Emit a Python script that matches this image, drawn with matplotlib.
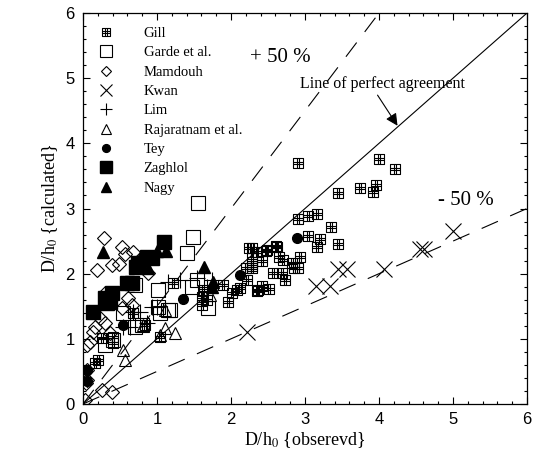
## scatter of calculated vs observed scour depth
import numpy as np
import matplotlib
matplotlib.use("Agg")
from matplotlib import pyplot as plt
from matplotlib.path import Path
from matplotlib.ticker import MultipleLocator

plt.rcParams["mathtext.fontset"] = "stix"

## data
gill_x = [2.91, 4.00, 4.22, 3.45, 3.74, 3.96, 3.92, 2.91, 3.04, 3.16, 3.35, 3.04, 3.20,
          3.16, 3.45, 2.93, 2.85, 2.73, 2.62, 2.47, 2.42, 2.28, 2.28, 2.65, 2.70, 2.82,
          2.91, 2.57, 2.69, 2.42, 2.35, 2.51, 2.24, 2.35, 2.49, 2.61, 2.20, 2.28, 2.22,
          2.36, 2.12, 2.08, 2.01, 1.89, 1.96, 1.62, 1.61, 1.61, 1.68, 1.22, 0.26, 0.41,
          0.41, 0.20, 0.16, 0.68, 1.04, 0.84, 2.28]
gill_y = [3.70, 3.76, 3.60, 3.24, 3.31, 3.36, 3.25, 2.84, 2.88, 2.91, 2.71, 2.58, 2.53,
          2.41, 2.45, 2.25, 2.09, 1.90, 2.41, 2.35, 2.19, 2.39, 2.24, 2.25, 2.21, 2.16,
          2.09, 2.01, 2.01, 1.81, 1.73, 1.76, 2.39, 2.33, 2.36, 2.42, 2.09, 2.12, 1.90,
          1.75, 1.78, 1.75, 1.70, 1.83, 1.56, 1.75, 1.64, 1.52, 1.60, 1.86, 1.01, 1.03,
          0.94, 0.67, 0.63, 1.40, 1.03, 1.21, 2.09]

garde_x = [1.55, 1.49, 1.41, 1.01, 1.15, 1.04, 1.54, 1.47, 1.69, 0.54, 0.70, 0.30, 0.41,
           0.80, 1.18, 1.01, 0.70]
garde_y = [3.08, 2.56, 2.32, 1.75, 1.44, 1.40, 1.90, 1.79, 1.47, 1.40, 1.83, 0.90, 0.98,
           1.21, 1.44, 1.49, 1.18]

mamdouh_x = [0.28, 0.53, 0.68, 0.57, 0.39, 0.49, 0.19, 0.88, 0.61, 0.30, 0.66, 0.53, 0.16,
             0.30, 0.14, 0.36, 0.05, 0.09, 0.05, 0.05, 0.04, 0.26, 0.39, 0.03, 0.23]
mamdouh_y = [2.55, 2.41, 2.33, 2.30, 2.13, 2.15, 2.06, 2.01, 1.63, 1.70, 1.52, 1.47, 1.18,
             1.24, 1.10, 1.09, 0.90, 0.95, 0.52, 0.37, 0.32, 0.21, 0.18, 0.06, 1.32]

kwan_x = [5.00, 4.61, 4.55, 4.07, 3.45, 3.57, 3.15, 3.34, 2.22]
kwan_y = [2.65, 2.38, 2.38, 2.07, 2.07, 2.07, 1.81, 1.81, 1.10]

lim_x = [0.77, 0.68, 0.93, 0.54, 0.64, 1.15, 1.54, 1.74, 1.68, 0.86, 1.00, 1.31]
lim_y = [1.41, 1.41, 1.49, 1.18, 1.18, 1.87, 1.93, 1.90, 1.80, 1.24, 1.49, 1.90]

raja_x = [1.24, 1.11, 1.04, 0.54, 0.57, 0.81, 1.11, 1.72]
raja_y = [1.09, 1.17, 1.06, 0.83, 0.67, 1.21, 1.44, 1.67]

tey_x = [1.35, 2.12, 2.89, 0.54, 0.05, 0.05]
tey_y = [1.61, 1.98, 2.55, 1.21, 0.52, 0.35]

zaghlol_x = [1.09, 0.93, 0.74, 0.72, 0.59, 0.66, 0.39, 0.30, 0.36, 0.14, 0.32, 0.86]
zaghlol_y = [2.48, 2.24, 2.16, 2.10, 1.86, 1.86, 1.70, 1.63, 1.56, 1.41, 1.55, 2.26]

nagy_x = [0.27, 1.00, 1.12, 0.77, 0.88, 1.64, 1.76, 1.74]
nagy_y = [2.33, 2.35, 2.35, 2.24, 2.09, 2.10, 1.87, 1.79]

## square with a double cross inside, used for Gill
a = 0.15
verts = [(-1, -1), (1, -1), (1, 1), (-1, 1), (-1, -1),
         (-a, -1), (-a, 1), (a, -1), (a, 1),
         (-1, -a), (1, -a), (-1, a), (1, a)]
codes = [Path.MOVETO, Path.LINETO, Path.LINETO, Path.LINETO, Path.CLOSEPOLY,
         Path.MOVETO, Path.LINETO, Path.MOVETO, Path.LINETO,
         Path.MOVETO, Path.LINETO, Path.MOVETO, Path.LINETO]
gill_marker = Path(verts, codes)

serif = "Liberation Serif"
fig = plt.figure(figsize=(5.37, 4.75), dpi=100)
ax = fig.add_axes([0.1546, 0.1495, 0.8268, 0.8231])

open_style = dict(linestyle="none", markerfacecolor="none", markeredgecolor="black",
                  markeredgewidth=0.8)
ax.plot(gill_x, gill_y, marker=gill_marker, markersize=6.5, label="Gill", **open_style)
ax.plot(garde_x, garde_y, marker="s", markersize=10, label="Garde et al.", **open_style)
ax.plot(mamdouh_x, mamdouh_y, marker="D", markersize=7, label="Mamdouh", **open_style)
ax.plot(kwan_x, kwan_y, marker="x", markersize=11, label="Kwan", **open_style)
ax.plot(lim_x, lim_y, marker="+", markersize=11, label="Lim", **open_style)
ax.plot(raja_x, raja_y, marker="^", markersize=9, label="Rajaratnam et al.", **open_style)
ax.plot(tey_x, tey_y, marker="o", markersize=7, color="black", linestyle="none", label="Tey")
ax.plot(zaghlol_x, zaghlol_y, marker="s", markersize=10, color="black", linestyle="none",
        label="Zaghlol")
ax.plot(nagy_x, nagy_y, marker="^", markersize=9, color="black", linestyle="none",
        label="Nagy")

## reference lines
ax.plot([0, 6], [0, 6], color="black", lw=0.8)
ax.plot([0, 4], [0, 6], color="black", lw=0.8, dashes=[16, 12])
ax.plot([0, 6], [0, 3], color="black", lw=0.8, dashes=[16, 12])

ax.text(2.66, 5.31, "+ 50 %", family=serif, fontsize=15, ha="center", va="center")
ax.text(5.18, 3.13, "- 50 %", family=serif, fontsize=15, ha="center", va="center")
ax.text(4.05, 4.91, "Line of perfect agreement", family=serif, fontsize=11.5,
        ha="center", va="center")
ax.annotate("", xy=(4.25, 4.27), xytext=(3.98, 4.74),
            arrowprops=dict(arrowstyle="-|>", color="black", lw=0.8, mutation_scale=18,
                            shrinkA=0, shrinkB=0))

ax.set_xlim(0, 6)
ax.set_ylim(0, 6)
ax.xaxis.set_major_locator(MultipleLocator(1))
ax.yaxis.set_major_locator(MultipleLocator(1))
ax.xaxis.set_minor_locator(MultipleLocator(0.2))
ax.yaxis.set_minor_locator(MultipleLocator(0.2))
ax.tick_params(which="both", direction="in", top=True, right=True, width=0.8)
ax.tick_params(which="major", length=5, labelsize=12, pad=6)
ax.tick_params(which="minor", length=2.5)
for lab in ax.get_xticklabels() + ax.get_yticklabels():
    lab.set_family("Liberation Sans")
for s in ax.spines.values():
    s.set_linewidth(0.9)

ax.set_xlabel("D/h$_0$ {obserevd}", family=serif, fontsize=13, labelpad=2)
ax.set_ylabel("D/h$_0$ {calculated}", family=serif, fontsize=13, labelpad=4)

ax.legend(loc="upper left", frameon=False, prop={"family": serif, "size": 10.5},
          markerscale=0.8, handletextpad=2.0, labelspacing=0.42, borderaxespad=0.55,
          handlelength=1.2)

plt.savefig("out.png", dpi=100)
